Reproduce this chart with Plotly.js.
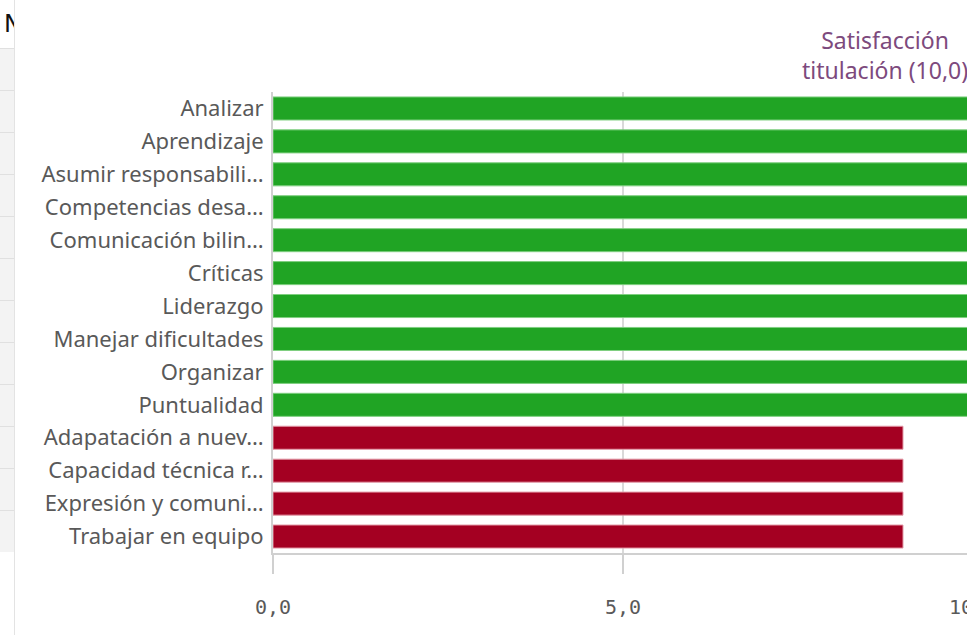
<!DOCTYPE html>
<html>
<head>
<meta charset="utf-8">
<script src="https://cdn.plot.ly/plotly-3.0.1.min.js"></script>
<style>
html,body{margin:0;padding:0;background:#fff;overflow:hidden;width:967px;height:635px;}
#side{position:absolute;left:0;top:0;width:14px;height:635px;overflow:hidden;border-right:1px solid #e3e3e3;background:#fff;}
#side .row{position:absolute;left:0;width:14px;height:41px;background:#f3f3f3;border-top:1px solid #e0e0e0;}
#side .hdr{position:absolute;left:4px;top:10px;font:24px "DejaVu Sans",sans-serif;color:#111;}
#chart{position:absolute;left:0;top:0;width:1000px;height:635px;}
</style>
</head>
<body>
<div id="chart"></div>
<div id="side"><div class="hdr">N</div></div>
<script>
const categories = [
  "Analizar","Aprendizaje","Asumir responsabili…","Competencias desa…","Comunicación bilin…",
  "Críticas","Liderazgo","Manejar dificultades","Organizar","Puntualidad",
  "Adapatación a nuev…","Capacidad técnica r…","Expresión y comuni…","Trabajar en equipo"
];
const values = [10,10,10,10,10,10,10,10,10,10,9.0,9.0,9.0,9.0];
const barColors = ["#20a424","#20a424","#20a424","#20a424","#20a424","#20a424","#20a424","#20a424","#20a424","#20a424","#a40022","#a40022","#a40022","#a40022"];
const xTickVals = [0,5,10];
const xTickText = ["0,0","5,0","10,0"];
const refLabel = "Satisfacción<br>titulación (10,0)";
const refValue = 10;

// side panel rows (decoration)
const side = document.getElementById('side');
for (let i = 0; i < 12; i++) {
  const r = document.createElement('div');
  r.className = 'row';
  r.style.top = (48 + i*42) + 'px';
  side.appendChild(r);
}

const trace = {
  type: 'bar',
  orientation: 'h',
  y: categories,
  x: values,
  marker: {color: barColors, line: {color: barColors.map(c => c === "#20a424" ? "#7fcf80" : "#e39aa8"), width: 1}},
  width: 0.7,
  hoverinfo: 'none'
};

const layout = {
  width: 1000, height: 635,
  margin: {l: 273, r: 27, t: 92, b: 82},
  paper_bgcolor: '#ffffff', plot_bgcolor: '#ffffff',
  showlegend: false,
  bargap: 0.3,
  xaxis: {
    range: [0, 10], fixedrange: true,
    tickvals: xTickVals, ticktext: xTickText,
    tickfont: {family: '"DejaVu Sans Mono", monospace', size: 20, color: '#595959'},
    ticks: 'outside', ticklen: 19, tickcolor: '#d0d0d0', tickwidth: 2,
    ticklabelstandoff: 16,
    showgrid: true, gridcolor: '#d9d9d9', gridwidth: 2,
    showline: true, linecolor: '#d0d0d0', linewidth: 2,
    zeroline: false
  },
  yaxis: {
    autorange: 'reversed', fixedrange: true,
    type: 'category',
    tickfont: {family: '"Noto Sans", sans-serif', size: 22, color: '#595959'},
    ticks: '', ticklabelstandoff: 3,
    showline: true, linecolor: '#d0d0d0', linewidth: 2,
    showgrid: false, zeroline: false
  },
  annotations: [{
    xref: 'x', yref: 'paper', x: refValue, y: 1, yanchor: 'bottom', xanchor: 'right',
    yshift: 4, xshift: -3,
    text: refLabel, showarrow: false, align: 'center',
    font: {family: '"Noto Sans", sans-serif', size: 23, color: '#7d4a7d'}
  }]
};

Plotly.newPlot('chart', [trace], layout, {displayModeBar: false, staticPlot: true});
</script>
</body>
</html>
